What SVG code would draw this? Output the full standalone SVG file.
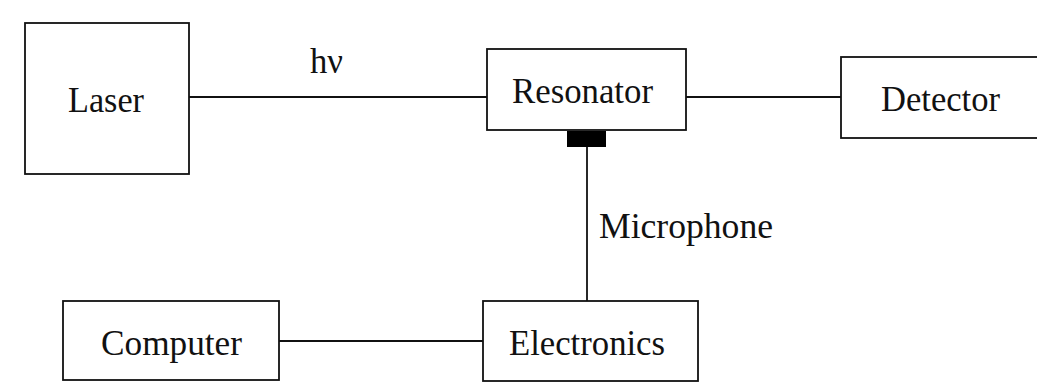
<svg xmlns="http://www.w3.org/2000/svg" width="1037" height="383" viewBox="0 0 1037 383">
<style>
.box{fill:#fff;stroke:#111;stroke-width:1.8}
.lbl{font-family:"Liberation Serif","Times New Roman",serif;font-size:36.5px;fill:#111}
.wire{stroke:#111;stroke-width:1.8;fill:none}
</style>
<rect width="1037" height="383" fill="#fff"/>
<g id="connectors">
<line class="wire" x1="189" y1="97" x2="487" y2="97"/>
<line class="wire" x1="686" y1="97" x2="841" y2="97"/>
<line class="wire" x1="587" y1="147" x2="587" y2="301"/>
<line class="wire" x1="279" y1="341" x2="483" y2="341"/>
<text class="lbl" x="310" y="73" textLength="33" lengthAdjust="spacingAndGlyphs">hν</text>
<text class="lbl" x="599" y="238" textLength="174" lengthAdjust="spacingAndGlyphs">Microphone</text>
</g>
<g id="laser">
<rect class="box" x="25" y="23" width="164" height="151"/>
<text class="lbl" x="68" y="112" textLength="76" lengthAdjust="spacingAndGlyphs">Laser</text>
</g>
<g id="resonator">
<rect class="box" x="487" y="49" width="199" height="81"/>
<text class="lbl" x="512" y="103" textLength="141" lengthAdjust="spacingAndGlyphs">Resonator</text>
</g>
<g id="microphone">
<rect x="567" y="131" width="39" height="16" fill="#000"/>
</g>
<g id="detector">
<rect class="box" x="841" y="57" width="210" height="81"/>
<text class="lbl" x="881" y="111" textLength="119" lengthAdjust="spacingAndGlyphs">Detector</text>
</g>
<g id="computer">
<rect class="box" x="63" y="301" width="216" height="79"/>
<text class="lbl" x="101" y="355" textLength="141" lengthAdjust="spacingAndGlyphs">Computer</text>
</g>
<g id="electronics">
<rect class="box" x="483" y="301" width="215" height="80"/>
<text class="lbl" x="509" y="355" textLength="156" lengthAdjust="spacingAndGlyphs">Electronics</text>
</g>
</svg>
